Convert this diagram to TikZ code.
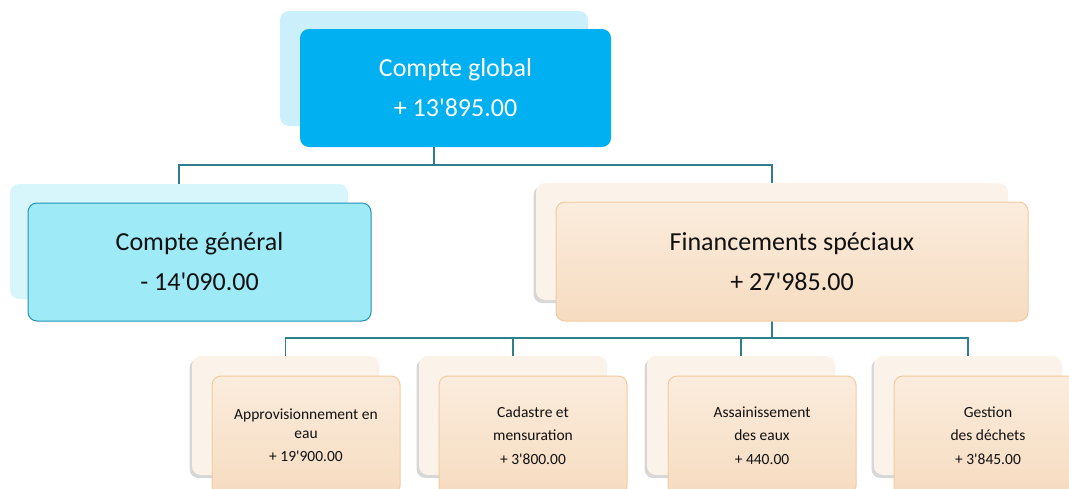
\documentclass[tikz,border=0pt]{standalone}
\usepackage{fontspec}
\setmainfont{Carlito}[Ligatures=TeXOff]
\usetikzlibrary{shadows}
\definecolor{topfront}{HTML}{00B0F0}
\definecolor{topback}{HTML}{CCEFFC}
\definecolor{genfront}{HTML}{9FEAF7}
\definecolor{genback}{HTML}{D7F6FC}
\definecolor{genborder}{HTML}{2191B5}
\definecolor{peachback}{HTML}{FBF3EA}
\definecolor{peachtop}{HTML}{FBECDD}
\definecolor{peachbot}{HTML}{F6DCC0}
\definecolor{peachborder}{HTML}{F2CC9F}
\definecolor{conncol}{HTML}{2D7F8E}
\definecolor{txt}{HTML}{111111}
\pgfdeclarelayer{bg}
\pgfsetlayers{bg,main}
\begin{document}
\begin{tikzpicture}[x=1pt,y=-1pt,
  box/.style={rectangle, rounded corners=9pt, inner sep=0pt, align=center},
  bigtext/.style={font=\fontsize{26}{40}\selectfont},
  smalltext/.style={font=\fontsize{15.5}{18.5}\selectfont},
  topbackbox/.style={box, fill=topback},
  topfrontbox/.style={box, fill=topfront, text=white, bigtext},
  genbackbox/.style={box, fill=genback},
  genfrontbox/.style={box, fill=genfront, draw=genborder, line width=1pt, text=txt, bigtext},
  peachbackbox/.style={box, fill=peachback, drop shadow={shadow xshift=-2.5pt, shadow yshift=-3pt, opacity=0.22, fill=black!70}},
  peachfrontbox/.style={box, top color=peachtop, bottom color=peachbot, draw=peachborder, line width=1pt, text=txt},
  conn/.style={draw=conncol, line width=1.4pt},
]
\clip (0,0) rectangle (1069,488);

% top
\node[topbackbox, minimum width=308pt, minimum height=115pt] (topB) at (434,68.5) {};
\node[topfrontbox, minimum width=311pt, minimum height=118pt] (topF) at (455.5,88) {Compte global\\+ 13'895.00};

% compte general
\node[genbackbox, minimum width=338pt, minimum height=115pt] (genB) at (179,241.5) {};
\node[genfrontbox, minimum width=343pt, minimum height=118pt] (genF) at (199.5,262) {Compte général\\- 14'090.00};

% financements speciaux
\node[peachbackbox, minimum width=472pt, minimum height=117pt] (finB) at (772,241.5) {};
\node[peachfrontbox, bigtext, minimum width=472pt, minimum height=119pt] (finF) at (792,261.5) {Financements spéciaux\\+ 27'985.00};

% small boxes
\node[peachbackbox, minimum width=187pt, minimum height=119pt] (s1B) at (285.5,415.5) {};
\node[peachfrontbox, smalltext, minimum width=188pt, minimum height=119pt] (s1F) at (306,435.5) {Approvisionnement en\\eau\\[5pt]+ 19'900.00};

\node[peachbackbox, minimum width=188pt, minimum height=119pt] (s2B) at (513,415.5) {};
\node[peachfrontbox, smalltext, minimum width=188pt, minimum height=119pt] (s2F) at (533,435.5) {Cadastre et\\[5pt]mensuration\\[5pt]+ 3'800.00};

\node[peachbackbox, minimum width=188pt, minimum height=119pt] (s3B) at (741,415.5) {};
\node[peachfrontbox, smalltext, minimum width=188pt, minimum height=119pt] (s3F) at (762,435.5) {Assainissement\\[5pt]des eaux\\[5pt]+ 440.00};

\node[peachbackbox, minimum width=188pt, minimum height=119pt] (s4B) at (968,415.5) {};
\node[peachfrontbox, smalltext, minimum width=188pt, minimum height=119pt] (s4F) at (988,435.5) {Gestion\\[5pt]des déchets\\[5pt]+ 3'845.00};

% connectors
\coordinate (j1) at (434,165);
\coordinate (j2) at (772,338);
\begin{pgfonlayer}{bg}
\fill[white] (0,0) rectangle (1069,488);
\draw[conn] (topB.south) -- (j1);
\draw[conn] (genB.north) |- (j1) -| (finB.north);
\draw[conn] (finB.south) -- (j2);
\draw[conn] (s1B.north) |- (j2) -| (s4B.north);
\draw[conn] (s2B.north) -- (s2B.north |- j2);
\draw[conn] (s3B.north) -- (s3B.north |- j2);
\end{pgfonlayer}
\end{tikzpicture}
\end{document}
